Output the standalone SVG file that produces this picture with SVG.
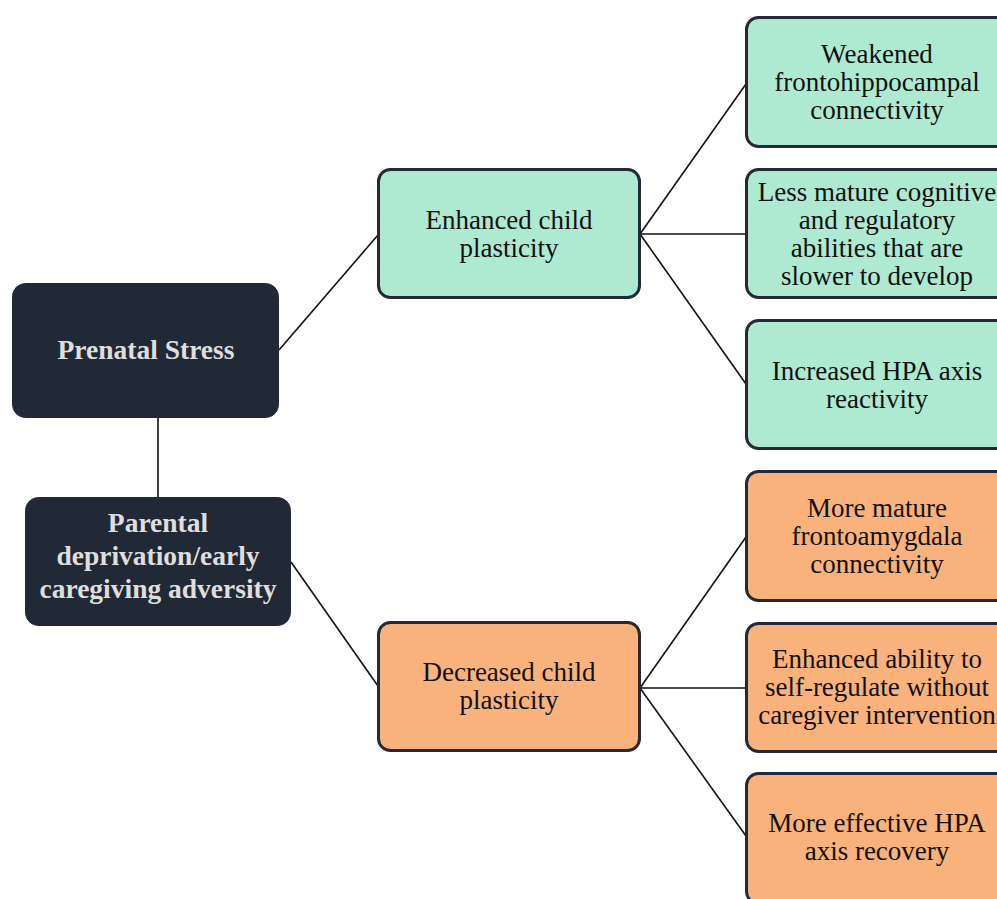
<svg xmlns="http://www.w3.org/2000/svg" width="997" height="899" viewBox="0 0 997 899">
<style>
.dark{fill:#222936;stroke:#222936;stroke-width:1}
.mint{fill:#aee9d1;stroke:#232a36;stroke-width:3}
.orange{fill:#f9b27c;stroke:#232a36;stroke-width:3}
.tl{font-family:"Liberation Serif","Times New Roman",serif;font-size:27.5px;font-weight:bold;fill:#dedede;text-anchor:middle}
.t{font-family:"Liberation Serif","Times New Roman",serif;font-size:27px;fill:#111;text-anchor:middle}
.c{stroke:#111;stroke-width:1.6;fill:none}
</style>
<rect width="997" height="899" fill="#ffffff"/>
<g id="connectors">
<line class="c" x1="158" y1="418" x2="158" y2="497"/>
<line class="c" x1="279" y1="350" x2="378" y2="235"/>
<line class="c" x1="291" y1="562" x2="378" y2="686"/>
<line class="c" x1="640" y1="234" x2="746" y2="84"/>
<line class="c" x1="640" y1="234" x2="746" y2="234"/>
<line class="c" x1="640" y1="234" x2="746" y2="384"/>
<line class="c" x1="640" y1="688" x2="746" y2="537"/>
<line class="c" x1="640" y1="688" x2="746" y2="688"/>
<line class="c" x1="640" y1="688" x2="746" y2="836"/>
</g>
<g id="prenatal">
<rect class="dark" x="12.5" y="283.5" width="266" height="134" rx="13"/>
<text class="tl" x="146" y="359">Prenatal Stress</text>
</g>
<g id="parental">
<rect class="dark" x="25.5" y="497.5" width="265" height="128" rx="13"/>
<text class="tl" x="158" y="532">Parental</text>
<text class="tl" x="158" y="565">deprivation/early</text>
<text class="tl" x="158" y="598">caregiving adversity</text>
</g>
<g id="enhanced">
<rect class="mint" x="378.5" y="169.5" width="261" height="128" rx="12"/>
<text class="t" x="509" y="229">Enhanced child</text>
<text class="t" x="509" y="257">plasticity</text>
</g>
<g id="decreased">
<rect class="orange" x="378.5" y="622.5" width="261" height="128" rx="12"/>
<text class="t" x="509" y="681">Decreased child</text>
<text class="t" x="509" y="709">plasticity</text>
</g>
<g id="weakened">
<rect class="mint" x="746.5" y="17.5" width="265" height="129" rx="12"/>
<text class="t" x="877" y="63">Weakened</text>
<text class="t" x="877" y="91">frontohippocampal</text>
<text class="t" x="877" y="119">connectivity</text>
</g>
<g id="lessmature">
<rect class="mint" x="746.5" y="169.5" width="265" height="128" rx="12"/>
<text class="t" x="877" y="201">Less mature cognitive</text>
<text class="t" x="877" y="229">and regulatory</text>
<text class="t" x="877" y="257">abilities that are</text>
<text class="t" x="877" y="285">slower to develop</text>
</g>
<g id="hpareactivity">
<rect class="mint" x="746.5" y="320.5" width="265" height="128" rx="12"/>
<text class="t" x="877" y="380">Increased HPA axis</text>
<text class="t" x="877" y="408">reactivity</text>
</g>
<g id="moremature">
<rect class="orange" x="746.5" y="471.5" width="265" height="129" rx="12"/>
<text class="t" x="877" y="517">More mature</text>
<text class="t" x="877" y="545">frontoamygdala</text>
<text class="t" x="877" y="573">connectivity</text>
</g>
<g id="selfregulate">
<rect class="orange" x="746.5" y="623.5" width="265" height="128" rx="12"/>
<text class="t" x="877" y="668">Enhanced ability to</text>
<text class="t" x="877" y="696">self-regulate without</text>
<text class="t" x="877" y="724">caregiver intervention</text>
</g>
<g id="hparecovery">
<rect class="orange" x="746.5" y="773.5" width="265" height="130" rx="12"/>
<text class="t" x="877" y="832">More effective HPA</text>
<text class="t" x="877" y="860">axis recovery</text>
</g>
</svg>
